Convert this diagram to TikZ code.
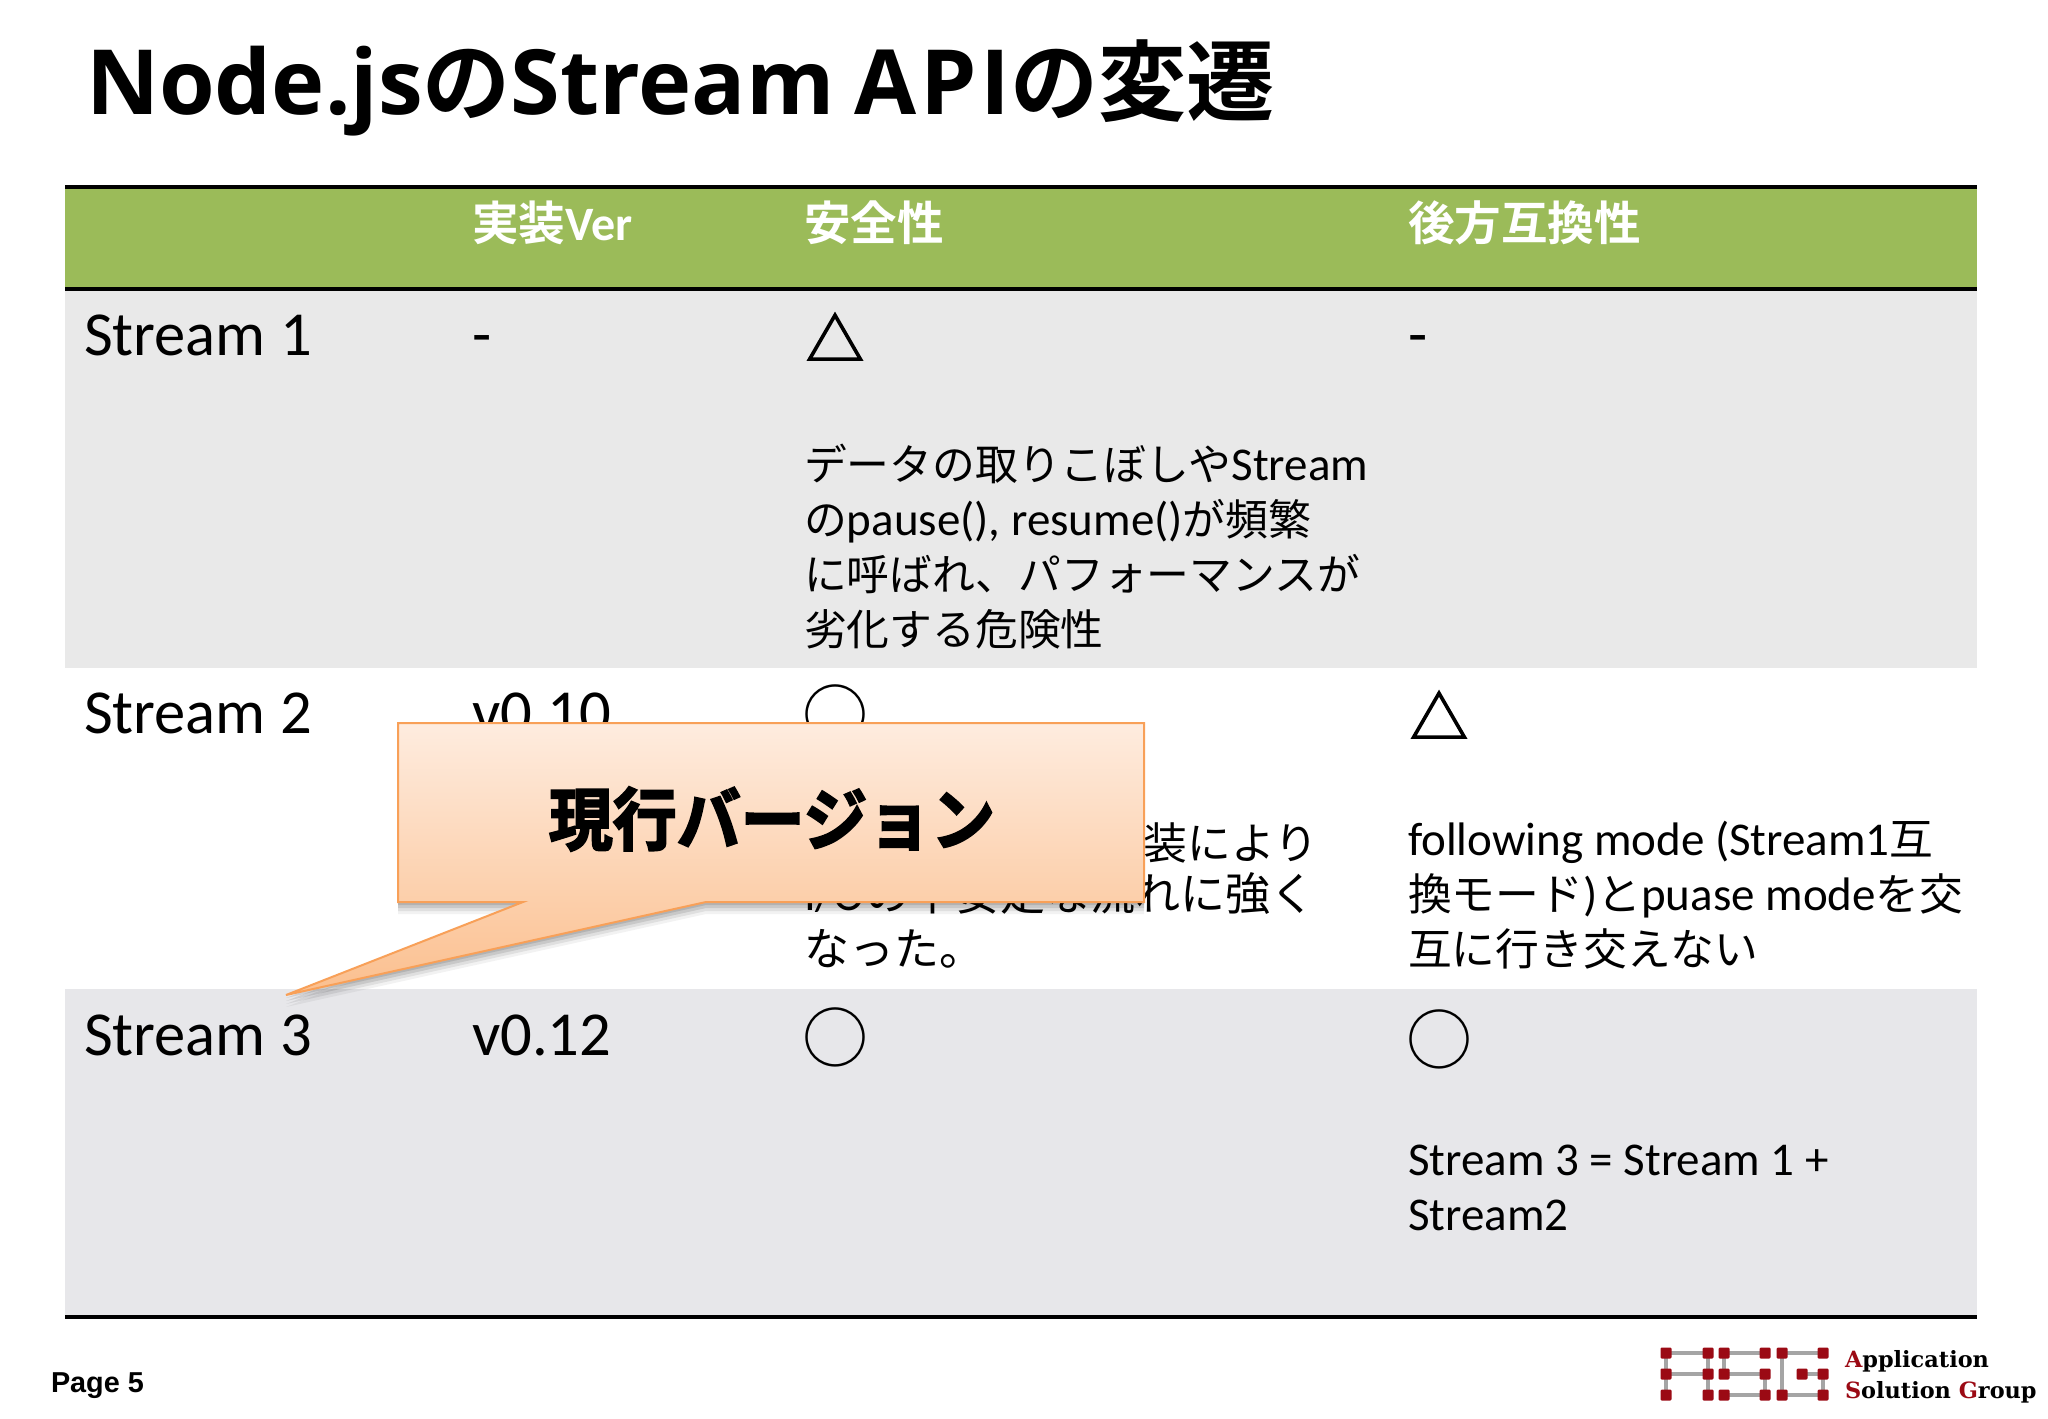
\documentclass[tikz,border=0pt]{standalone}
\usepackage{fontspec}
\usetikzlibrary{calc}
\setmainfont{Carlito}
\newfontfamily\J{Noto Sans CJK JP}
\newfontfamily\JB{Noto Sans CJK JP Bold}
\newfontfamily\JK{Noto Sans CJK JP Bold}[FakeBold=3]
\newfontfamily\JT{Noto Sans CJK JP}[FakeBold=2.5]
\newfontfamily\titlelat{Open Sans}[BoldFont={Open Sans Bold}]
\newfontfamily\titleapi{Open Sans}[BoldFont={Open Sans Bold},LetterSpace=4]
\newfontfamily\logof{DejaVu Serif}
\newfontfamily\pagef{Liberation Sans}
\definecolor{hdr}{HTML}{9BBB59}
\definecolor{rowa}{HTML}{E9E9E9}
\definecolor{rowc}{HTML}{E7E7EA}
\definecolor{calln}{HTML}{F79646}
\definecolor{calltop}{HTML}{FEECDF}
\definecolor{callbot}{HTML}{FBBF8E}
\definecolor{logored}{HTML}{9B0A14}
\definecolor{logogray}{HTML}{A5A5A5}
\newcommand{\Lt}{\fontsize{23.5}{27.5}\rmfamily}
\newcommand{\Jt}{\fontsize{21.9}{27.5}\J}
\newcommand{\Jn}{\fontsize{21.4}{27.5}\J}
\newcommand{\Jw}{\fontsize{22.5}{27.5}\J}
\newcommand{\TL}[1]{{\fontsize{45}{50}\titlelat\bfseries #1}}
\newcommand{\TA}[1]{{\fontsize{45}{50}\titleapi\bfseries #1}}
\tikzset{
  x=0.5pt,y=-0.5pt,
  cell/.style={anchor=base west,inner sep=0pt,outer sep=0pt,align=left},
  rowname/.style={cell,font=\fontsize{31.3}{36}\selectfont},
  head/.style={cell,text=white,font=\fontsize{23.3}{28}\JB\selectfont},
  body/.style={cell,font=\fontsize{21.9}{27.5}\selectfont},
  sym/.style={anchor=center,inner sep=0pt,font=\fontsize{33}{36}\J\selectfont},
  tri/.style={anchor=center,inner sep=0pt,font=\fontsize{29}{36}\JT\selectfont},
  rule/.style={line width=2.3pt,black},
  sq/.style={fill=logored,rounded corners=0.6pt},
  lk/.style={line width=1.8pt,logogray},
}
\newcommand{\lsq}[2]{\fill[sq] (#1-5.5,#2-5.5) rectangle (#1+5.5,#2+5.5);}
\begin{document}
\begin{tikzpicture}
\useasboundingbox (0,0) rectangle (2048,1418);
\fill[white] (0,0) rectangle (2048,1418);
% title
\node[cell,font=\fontsize{44}{50}\JB\selectfont] (title) at (86,114) {\TL{Node.js}の\TL{Stream} \TA{API}の変遷};
% bands
\fill[hdr] (65,187) rectangle (1977,289);
\fill[rowa] (65,289) rectangle (1977,668);
\fill[rowc] (65,989) rectangle (1977,1317);
\draw[rule] (65,187) -- (1977,187);
\draw[rule] (65,289) -- (1977,289);
\draw[rule] (65,1317) -- (1977,1317);
% header
\node[head] (h1) at (472,240) {実装{\fontsize{24}{28}\bfseries\rmfamily Ver}};
\node[head] (h2) at (804,240) {安全性};
\node[head] (h3) at (1408,240) {後方互換性};
% row 1
\node[rowname] (s1) at (84,355) {Stream 1};
\node[rowname] (v1) at (472,355) {-};
\node[tri] (t1) at (835,337) {△};
\node[rowname] (c1) at (1408,355) {-};
\node[body] (d1) at (804,645) {\Jn データの取りこぼしや\Lt Stream\\\Jn の\Lt pause(), resume()\Jn が頻繁\\\Jn に呼ばれ、パフォーマンスが\\\Jn 劣化する危険性};
% row 2
\node[rowname] (s2) at (84,733) {Stream 2};
\node[rowname] (v2) at (472,733) {v0.10};
\node[sym] (t2) at (835,714) {○};
\node[tri] (c2) at (1439,715) {△};
\node[body,anchor=base east] (d2a) at (1318,859) {\Jt 実装により};
\node[body] (d2b) at (804,965) {\Lt I/O\Jw の不安定な流れに強く\\\Jw なった。};
\node[body] (e2) at (1408,965) {\Lt following mode (Stream1\Jt 互\\\Jt 換モード\Lt )\Jt と\Lt puase mode\Jt を交\\\Jt 互に行き交えない};
% row 3
\node[rowname] (s3) at (84,1055) {Stream 3};
\node[rowname] (v3) at (472,1055) {v0.12};
\node[sym] (t3) at (835,1037) {○};
\node[sym] (c3) at (1439,1039) {○};
\node[body] (e3) at (1408,1230) {\Lt Stream 3 = Stream 1 +\\\Lt Stream2};
% callout
\coordinate (tip) at (286,995);
\foreach \o/\op in {3/.10,6/.10,9/.08,12/.05}{
  \fill[black,opacity=\op] ($(398,723)+(0,\o)$) -- ($(1144,723)+(0,\o)$) -- ($(1144,902)+(0,\o)$) -- ($(706,902)+(0,\o)$) -- ($(tip)+(0,\o)$) -- ($(523,902)+(0,\o)$) -- ($(398,902)+(0,\o)$) -- cycle;
}
\draw[calln!90!white,line width=1pt,top color=calltop,bottom color=callbot,shading angle=0]
  (398,723) -- (1144,723) -- (1144,902) -- (706,902) -- (tip) -- (523,902) -- (398,902) -- cycle;
\node[anchor=center,inner sep=0pt,xscale=.94,font=\fontsize{34}{40}\JK\selectfont] (callout) at (772,819) {現行バージョン};
% footer
\node[cell,font=\fontsize{14.4}{16}\bfseries\pagef\selectfont] (page) at (51,1392) {Page 5};
% logo
\foreach \a/\b/\c/\d in {1666/1353/1708/1353,1666/1374/1708/1374,1666/1353/1666/1395,1708/1353/1708/1395,
  1724/1353/1765/1353,1724/1353/1724/1374,1724/1374/1765/1374,1765/1374/1765/1395,1724/1395/1765/1395,
  1782/1353/1823/1353,1782/1353/1782/1395,1782/1395/1823/1395,1823/1374/1823/1395,1802/1374/1823/1374}{
  \draw[lk] (\a,\b) -- (\c,\d);
}
\foreach \p/\q in {1666/1353,1708/1353,1666/1374,1708/1374,1666/1395,1708/1395,
  1724/1353,1765/1353,1724/1374,1765/1374,1724/1395,1765/1395,
  1782/1353,1823/1353,1802/1374,1823/1374,1782/1395,1823/1395}{
  \lsq{\p}{\q}
}
\node[cell,font=\fontsize{11.2}{15.5}\logof\bfseries\selectfont] (logotext) at (1845,1398)
  {\textcolor{logored}{A}pplication\\\textcolor{logored}{S}olution \textcolor{logored}{G}roup};
\end{tikzpicture}
\end{document}
